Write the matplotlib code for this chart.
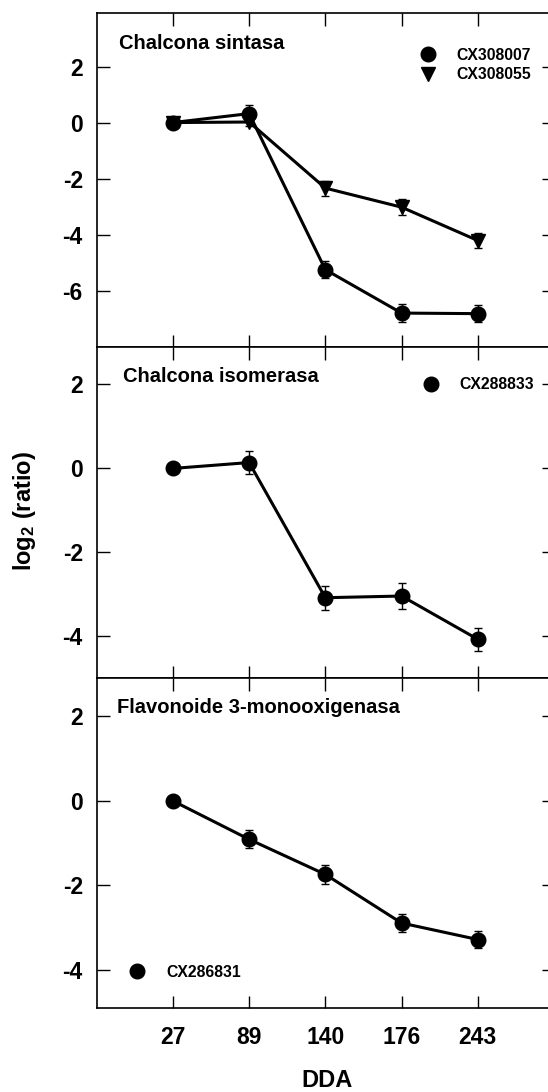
import matplotlib
matplotlib.use('Agg')
from matplotlib import pyplot as plt
from matplotlib.lines import Line2D

plt.rcParams['font.family'] = ['Liberation Sans', 'DejaVu Sans']
plt.rcParams['font.weight'] = 'bold'
plt.rcParams['mathtext.default'] = 'regular'
plt.rcParams['axes.unicode_minus'] = False

dda = ['27', '89', '140', '176', '243']

# Chalcona sintasa
chs_308007 = [0.0, 0.32, -5.25, -6.80, -6.82]
chs_308007_err = [0.10, 0.30, 0.30, 0.33, 0.30]
chs_308055 = [0.0, 0.02, -2.34, -3.02, -4.21]
chs_308055_err = [0.10, 0.15, 0.27, 0.29, 0.26]

# Chalcona isomerasa
chi_288833 = [0.0, 0.14, -3.08, -3.04, -4.07]
chi_288833_err = [0.05, 0.27, 0.29, 0.30, 0.28]

# Flavonoide 3-monooxigenasa
f3m_286831 = [0.0, -0.91, -1.74, -2.89, -3.28]
f3m_286831_err = [0.05, 0.21, 0.22, 0.21, 0.20]

fig = plt.figure(figsize=(5.48, 10.92), dpi=100)

left, width = 96.7 / 548, (554 - 96.7) / 548
ax1 = fig.add_axes([left, 1 - 346.7 / 1092, width, 333.4 / 1092])
ax2 = fig.add_axes([left, 1 - 678.3 / 1092, width, 331.6 / 1092])
ax3 = fig.add_axes([left, 1 - 1008.0 / 1092, width, 329.7 / 1092])

x = list(range(1, len(dda) + 1))
line_kw = dict(color='black', lw=2.2, ms=10.5, ecolor='black', elinewidth=1,
               capsize=3, capthick=1)


def circ(lab):
    return Line2D([], [], color='black', marker='o', ms=10.5, ls='none', label=lab)


def tri(lab):
    return Line2D([], [], color='black', marker='v', ms=10.5, ls='none', label=lab)


ax1.errorbar(x, chs_308055, yerr=chs_308055_err, marker='v', **line_kw)
ax1.errorbar(x, chs_308007, yerr=chs_308007_err, marker='o', **line_kw)
ax1.set_ylim(-8, 3.9)
ax1.set_yticks([2, 0, -2, -4, -6])
ax1.text(0.049, 0.892, 'Chalcona sintasa', transform=ax1.transAxes,
         fontsize=14.5, fontweight='bold', va='baseline')
ax1.legend(handles=[circ('CX308007'), tri('CX308055')], loc='center left',
           bbox_to_anchor=(0.707, 0.845), frameon=False, fontsize=11.3,
           handlelength=1, handletextpad=1.33, borderpad=0, borderaxespad=0,
           labelspacing=0.3)

ax2.errorbar(x, chi_288833, yerr=chi_288833_err, marker='o', **line_kw)
ax2.set_ylim(-5, 2.9)
ax2.set_yticks([2, 0, -2, -4])
ax2.text(0.058, 0.894, 'Chalcona isomerasa', transform=ax2.transAxes,
         fontsize=14.5, fontweight='bold', va='baseline')
ax2.legend(handles=[circ('CX288833')], loc='center left',
           bbox_to_anchor=(0.713, 0.8845), frameon=False, fontsize=11.3,
           handlelength=1, handletextpad=1.33, borderpad=0, borderaxespad=0)

ax3.errorbar(x, f3m_286831, yerr=f3m_286831_err, marker='o', **line_kw)
ax3.set_ylim(-4.9, 2.9)
ax3.set_yticks([2, 0, -2, -4])
ax3.text(0.045, 0.894, 'Flavonoide 3-monooxigenasa', transform=ax3.transAxes,
         fontsize=14.5, fontweight='bold', va='baseline')
ax3.legend(handles=[circ('CX286831')], loc='center left',
           bbox_to_anchor=(0.072, 0.109), frameon=False, fontsize=11.3,
           handlelength=1, handletextpad=1.33, borderpad=0, borderaxespad=0)

for ax in (ax1, ax2, ax3):
    ax.set_xlim(0, 6)
    ax.set_xticks(x)
    ax.tick_params(direction='in', length=9, width=1, top=True, right=True,
                   labelsize=16.5, pad=10)
    ax.tick_params(axis='x', pad=13)
    for s in ax.spines.values():
        s.set_linewidth(1.2)
    for lab in ax.get_yticklabels():
        lab.set_fontweight('bold')

ax1.set_xticklabels([])
ax2.set_xticklabels([])
ax3.set_xticklabels(dda, fontweight='bold')

fig.text(24 / 548, 1 - 511 / 1092, 'log$_2$ (ratio)', rotation=90,
         ha='center', va='center', fontsize=17, fontweight='bold')
fig.text(326.7 / 548, 1 - 1080.5 / 1092, 'DDA', ha='center', va='center',
         fontsize=17, fontweight='bold')

plt.savefig('out.png', dpi=100)
plt.close(fig)
